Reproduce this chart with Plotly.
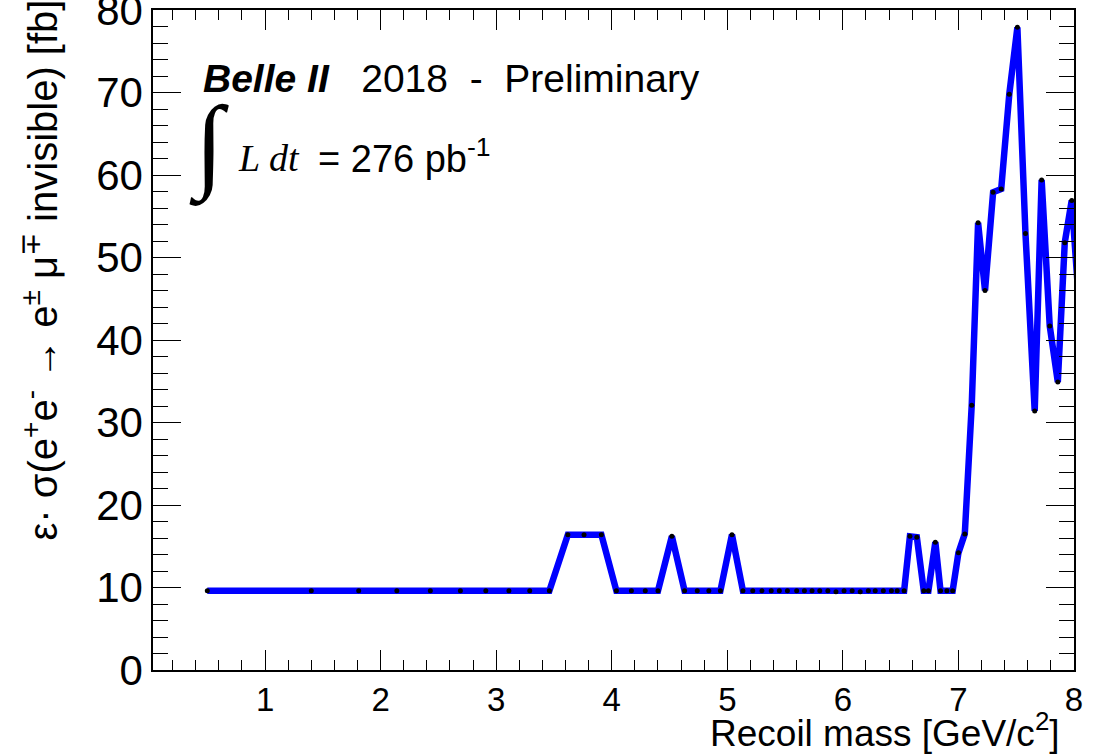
import plotly.graph_objects as go

# Data
recoil_mass = [0.50, 1.40, 1.81, 2.14, 2.43, 2.69, 2.91, 3.11, 3.29, 3.46,
               3.62, 3.76, 3.91, 4.04, 4.17, 4.29, 4.40, 4.52, 4.63, 4.74,
               4.84, 4.94, 5.04, 5.135, 5.22, 5.30, 5.38, 5.45, 5.52, 5.60,
               5.667, 5.733, 5.80, 5.87, 5.94, 6.01, 6.08, 6.15, 6.22, 6.28,
               6.35, 6.42, 6.47, 6.53, 6.58, 6.64, 6.70, 6.74, 6.80, 6.845,
               6.90, 6.95, 7.00, 7.055, 7.115, 7.17, 7.23, 7.30, 7.37, 7.44,
               7.51, 7.58, 7.66, 7.72, 7.79, 7.86, 7.92, 7.98, 8.04]
eff_xsec = [9.6, 9.6, 9.6, 9.6, 9.6, 9.6, 9.6, 9.6, 9.6, 9.6,
            16.4, 16.4, 16.4, 9.6, 9.6, 9.6, 9.6, 16.2, 9.6, 9.6,
            9.6, 9.6, 16.4, 9.6, 9.6, 9.6, 9.6, 9.6, 9.6, 9.6,
            9.6, 9.6, 9.6, 9.6, 9.5, 9.6, 9.6, 9.5, 9.6, 9.6,
            9.6, 9.6, 9.6, 9.6, 16.2, 16.1, 9.6, 9.6, 15.5, 9.6,
            9.6, 9.6, 14.2, 16.5, 32.1, 54.2, 46.0, 57.9, 58.3, 69.8,
            77.9, 52.9, 31.4, 59.4, 41.7, 34.9, 51.8, 56.9, 45.0]
x_ticks = [1, 2, 3, 4, 5, 6, 7, 8]
y_ticks = [0, 10, 20, 30, 40, 50, 60, 70, 80]

W, H = 1099, 756
L, R, T, B = 153, 1074, 10, 670


def px(xp, yp):
    return (xp - L) / (R - L), (B - yp) / (B - T)


fig = go.Figure()
fig.add_trace(go.Scatter(
    x=recoil_mass, y=eff_xsec, mode="lines+markers",
    line=dict(color="#0000ff", width=6.5),
    marker=dict(color="black", size=5),
    showlegend=False, hoverinfo="x+y"))

sans = "Liberation Sans, Arial, sans-serif"
serif = "Liberation Serif, Times New Roman, serif"

fig.update_layout(
    width=W, height=H,
    margin=dict(l=L, r=W - R, t=T, b=H - B, autoexpand=False),
    paper_bgcolor="white", plot_bgcolor="white",
    font=dict(family=sans, color="black"),
    xaxis=dict(range=[0.03, 8], tickvals=x_ticks, ticktext=[str(v) for v in x_ticks],
               ticks="inside", ticklen=20, tickwidth=1.2, tickcolor="black",
               minor=dict(dtick=0.2, ticks="inside", ticklen=10, tickcolor="black", tickwidth=1.2),
               showline=True, linecolor="black", linewidth=1.5, mirror="ticks",
               showgrid=False, zeroline=False, ticklabeloverflow="allow", automargin=False,
               tickfont=dict(size=33, family=sans), ticklabelstandoff=0),
    yaxis=dict(range=[0, 80], tickvals=y_ticks, ticktext=[str(v) for v in y_ticks],
               ticks="inside", ticklen=28, tickwidth=1.2, tickcolor="black",
               minor=dict(dtick=2, ticks="inside", ticklen=15, tickcolor="black", tickwidth=1.2),
               showline=True, linecolor="black", linewidth=1.5, mirror="ticks",
               showgrid=False, zeroline=False, ticklabeloverflow="allow", automargin=False,
               tickfont=dict(size=42, family=sans), ticklabelstandoff=0),
)

ann = []
# x-axis title, right aligned
x0, y0 = px(1062, 756)
ann.append(dict(x=x0, y=y0, xref="paper", yref="paper", xanchor="right", yanchor="bottom",
                text="Recoil mass [GeV/c<sup>2</sup>]", showarrow=False,
                font=dict(size=37, family=sans)))
# y-axis title, rotated, aligned to top
x0, y0 = px(40, -2)
ann.append(dict(x=x0, y=y0, xref="paper", yref="paper", xanchor="center", yanchor="top",
                textangle=-90,
                text="ε· σ(e<sup>+</sup>e<sup>-</sup> → e<sup>±</sup> μ<sup>∓</sup> invisible) [fb]",
                showarrow=False, font=dict(size=40, family=sans)))
# Belle II label
x0, y0 = px(201, 78)
ann.append(dict(x=x0, y=y0, xref="paper", yref="paper", xanchor="left", yanchor="middle",
                text="<b><i>Belle II</i></b>   2018  -  Preliminary", showarrow=False,
                font=dict(size=39, family=sans)))
# integral sign
x0, y0 = px(209, 145)
ann.append(dict(x=x0, y=y0, xref="paper", yref="paper", xanchor="center", yanchor="middle",
                text="∫", showarrow=False, font=dict(size=104, family=serif)))
x0, y0 = px(236, 158)
ann.append(dict(x=x0, y=y0, xref="paper", yref="paper", xanchor="left", yanchor="middle",
                text="<i>L dt</i>", showarrow=False, font=dict(size=38, family=serif)))
x0, y0 = px(316, 156)
ann.append(dict(x=x0, y=y0, xref="paper", yref="paper", xanchor="left", yanchor="middle",
                text="= 276 pb<sup>-1</sup>", showarrow=False, font=dict(size=38, family=sans)))
fig.update_layout(annotations=ann)

fig.write_html("out.html")
